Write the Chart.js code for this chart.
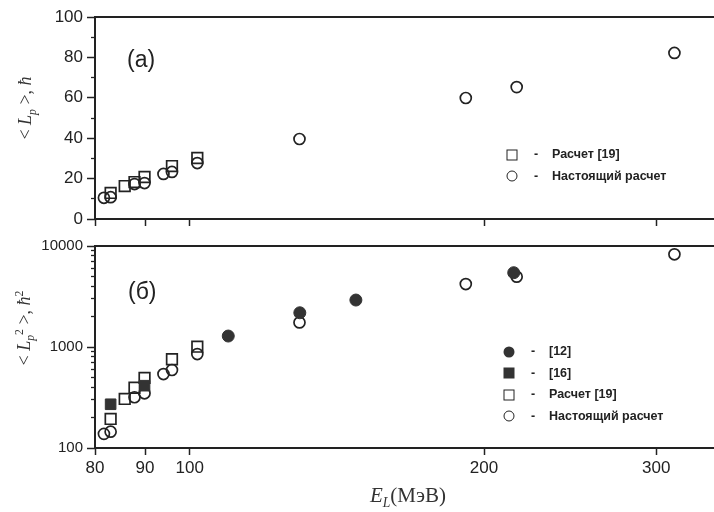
<!DOCTYPE html>
<html>
<head>
<meta charset="utf-8">
<script src="https://cdn.jsdelivr.net/npm/chart.js@4.4.1/dist/chart.umd.min.js"></script>
<style>
  html, body { margin: 0; padding: 0; background: #fff; overflow: hidden; }
  body { width: 714px; height: 512px; position: relative; }
  .cv { position: absolute; left: 0; }
  #top { top: 0; }
  #bot { top: 228px; }
  .panel { position: absolute; font: 23px "Liberation Sans", Arial, sans-serif; color: #222; }
  .ytitle { position: absolute; font: 18px "Liberation Serif", serif; color: #333; white-space: nowrap;
            transform: translate(-50%, -50%) rotate(-90deg); }
  .xtitle { position: absolute; font: 21px "Liberation Serif", serif; color: #333; white-space: nowrap;
            transform: translate(-50%, -50%); }
  .legend { position: absolute; font: bold 12.5px "Liberation Sans", Arial, sans-serif; color: #222; }
  .legend div { height: 21.5px; line-height: 21.5px; position: relative; white-space: nowrap; }
  .legend .sym { position: absolute; left: 0; top: 50%; transform: translate(-50%, -50%); box-sizing: border-box; }
  .legend .dash { position: absolute; left: 22px; }
  .legend .txt { position: absolute; left: 40px; }
  .s-oc { width: 11px; height: 11px; border: 1.8px solid #222; border-radius: 50%; }
  .s-os { width: 11px; height: 11px; border: 1.8px solid #222; }
  .s-fc { width: 11px; height: 11px; background: #333; border-radius: 50%; }
  .s-fs { width: 11px; height: 11px; background: #333; }
  i { font-style: italic; }
  sub, sup { font-size: 65%; }
</style>
</head>
<body>
<canvas id="top" class="cv" width="740" height="236"></canvas>
<canvas id="bot" class="cv" width="740" height="262"></canvas>

<div class="panel" style="left:127px; top:46px;">(a)</div>
<div class="panel" style="left:128px; top:278px;">(б)</div>

<div class="ytitle" style="left:27px; top:108px;">&lt; <i>L</i><sub><i>p</i></sub> &gt;, <i>ħ</i></div>
<div class="ytitle" style="left:25px; top:328px;">&lt; <i>L</i><sub><i>p</i></sub><sup>2</sup> &gt;, <i>ħ</i><sup>2</sup></div>
<div class="xtitle" style="left:408px; top:497px;"><i>E</i><sub><i>L</i></sub>(МэВ)</div>

<div class="legend" style="left:512px; top:144px;">
  <div><span class="sym s-os"></span><span class="dash">-</span><span class="txt">Расчет [19]</span></div>
  <div><span class="sym s-oc"></span><span class="dash">-</span><span class="txt">Настоящий расчет</span></div>
</div>
<div class="legend" style="left:509px; top:341px;">
  <div><span class="sym s-fc"></span><span class="dash">-</span><span class="txt">[12]</span></div>
  <div><span class="sym s-fs"></span><span class="dash">-</span><span class="txt">[16]</span></div>
  <div><span class="sym s-os"></span><span class="dash">-</span><span class="txt">Расчет [19]</span></div>
  <div><span class="sym s-oc"></span><span class="dash">-</span><span class="txt">Настоящий расчет</span></div>
</div>

<script>
// energies (MeV)
const ePresent = [81.7, 83, 87.8, 89.9, 94, 95.9, 101.8, 129.5, 191.6, 216, 313.2];
const eCalc19 = [83, 85.8, 87.8, 89.9, 95.9, 101.8];
const eRef12 = [109.5, 129.6, 147.9, 214.5];
const eRef16 = [83, 89.9];

// panel (a): <Lp>
const lpPresent = [10.5, 10.8, 17.3, 17.8, 22.3, 23.3, 27.7, 39.6, 59.9, 65.3, 82.2];
const lpCalc19 = [12.9, 16.3, 18.3, 20.8, 26.2, 30.2];

// panel (б): <Lp^2>
const lp2Present = [138, 145, 318, 348, 540, 592, 852, 1751, 4200, 4970, 8280];
const lp2Calc19 = [194, 306, 395, 494, 756, 1007];
const lp2Ref12 = [1284, 2182, 2917, 5440];
const lp2Ref16 = [271, 414];

// ticks
const xTicks = [80, 90, 100, 200, 300];
const yTopMajor = [0, 20, 40, 60, 80, 100];
const yTopMinor = [10, 30, 50, 70, 90];
const yBotMajor = [100, 1000, 10000];
const yBotMinor = [200, 300, 400, 500, 600, 700, 800, 900, 2000, 3000, 4000, 5000, 6000, 7000, 8000, 9000];

const ink = '#222';
const pts = (xs, ys) => xs.map((x, i) => ({x: x, y: ys[i]}));

const frame = {
    id: 'frame',
    afterDraw(chart) {
        const a = chart.chartArea, c = chart.ctx;
        c.save();
        c.strokeStyle = ink;
        c.lineWidth = 2;
        c.strokeRect(a.left, a.top, a.right - a.left, a.bottom - a.top);
        c.restore();
    }
};

function xScale(showLabels, h) {
    return {
        type: 'logarithmic',
        min: 80, max: 357,
        afterBuildTicks: s => { s.ticks = xTicks.map(v => ({value: v})); },
        afterFit: s => { s.height = h; },
        grid: { drawOnChartArea: false, tickLength: 7, color: ink, tickWidth: 1.5 },
        border: { display: false },
        ticks: {
            display: showLabels, autoSkip: false, maxRotation: 0, padding: 3, color: ink,
            font: { family: 'Liberation Sans', size: 17 },
            callback: v => v
        }
    };
}

// main y axis (labelled, long ticks) and a zero-width twin carrying the short minor ticks
function yScales(type, min, max, major, minor, fontSize) {
    return {
        y: {
            type: type, min: min, max: max, weight: 1,
            afterBuildTicks: s => { s.ticks = major.map(v => ({value: v})); },
            afterFit: s => { s.width = 95; },
            grid: { drawOnChartArea: false, tickLength: 8, color: ink, tickWidth: 1.5 },
            border: { display: false },
            ticks: {
                padding: 4, color: ink, autoSkip: false,
                font: { family: 'Liberation Sans', size: fontSize },
                callback: v => v
            }
        },
        yMinor: {
            type: type, min: min, max: max, position: 'left', weight: 0,
            afterBuildTicks: s => { s.ticks = minor.map(v => ({value: v})); },
            afterFit: s => { s.width = 0; },
            grid: { drawOnChartArea: false, tickLength: 4, color: ink, tickWidth: 1.3 },
            border: { display: false },
            ticks: { display: false }
        }
    };
}

const openCircle = { pointStyle: 'circle', pointRadius: 5.5, borderWidth: 1.7, borderColor: ink, backgroundColor: 'rgba(255,255,255,0)' };
const openSquare = { pointStyle: 'rect', pointRadius: 7.5, borderWidth: 1.7, borderColor: ink, backgroundColor: 'rgba(255,255,255,0)' };

new Chart(document.getElementById('top'), {
    type: 'scatter',
    data: {
        datasets: [
            Object.assign({ label: 'Расчет [19]', data: pts(eCalc19, lpCalc19) }, openSquare),
            Object.assign({ label: 'Настоящий расчет', data: pts(ePresent, lpPresent) }, openCircle)
        ]
    },
    options: {
        responsive: false,
        animation: false,
        layout: { padding: { top: 17, right: 10, left: 0, bottom: 0 } },
        plugins: { legend: { display: false }, tooltip: { enabled: false } },
        scales: Object.assign({ x: xScale(false, 17) }, yScales('linear', 0, 100, yTopMajor, yTopMinor, 17))
    },
    plugins: [frame]
});

new Chart(document.getElementById('bot'), {
    type: 'scatter',
    data: {
        datasets: [
            { label: '[12]', data: pts(eRef12, lp2Ref12), pointStyle: 'circle', pointRadius: 6, borderWidth: 1, borderColor: '#333', backgroundColor: '#333' },
            { label: '[16]', data: pts(eRef16, lp2Ref16), pointStyle: 'rect', pointRadius: 7.5, borderWidth: 1, borderColor: '#333', backgroundColor: '#333' },
            Object.assign({ label: 'Расчет [19]', data: pts(eCalc19, lp2Calc19) }, openSquare),
            Object.assign({ label: 'Настоящий расчет', data: pts(ePresent, lp2Present) }, openCircle)
        ]
    },
    options: {
        responsive: false,
        animation: false,
        layout: { padding: { top: 18, right: 10, left: 0, bottom: 0 } },
        plugins: { legend: { display: false }, tooltip: { enabled: false } },
        scales: Object.assign({ x: xScale(true, 42) }, yScales('logarithmic', 100, 10000, yBotMajor, yBotMinor, 15))
    },
    plugins: [frame]
});
</script>
</body>
</html>
